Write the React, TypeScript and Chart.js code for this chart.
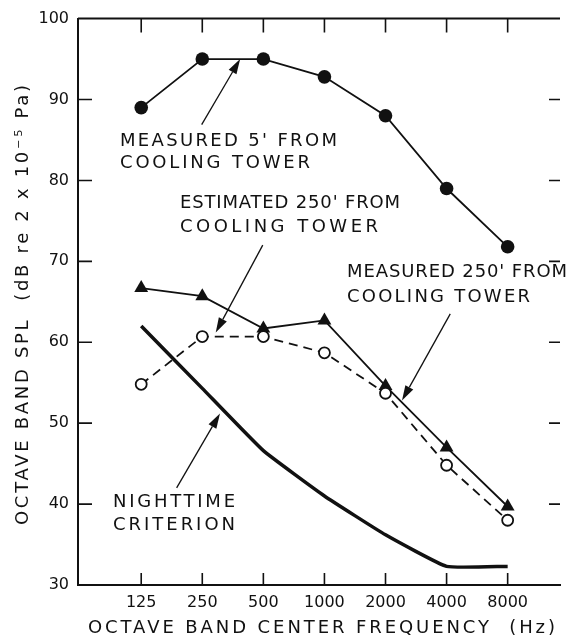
import React, { useEffect, useRef } from "react";
import { Chart, registerables } from "chart.js";

Chart.register(...registerables);

// ---------- data ----------
const freqLabels = ["125", "250", "500", "1000", "2000", "4000", "8000"];
const bandIndex = [0, 1, 2, 3, 4, 5, 6];
const measured5ft = [89, 95, 95, 92.8, 88, 79, 71.8];
const measured250ft = [66.7, 65.7, 61.7, 62.7, 54.6, 47, 39.7];
const estimated250ft = [54.8, 60.7, 60.7, 58.7, 53.7, 44.8, 38];
const nighttimeCriterion = [62, 54.3, 46.6, 41, 36.2, 32.3, 32.3];
const yTickValues = [30, 40, 50, 60, 70, 80, 90, 100];

const xTitle = "OCTAVE BAND CENTER FREQUENCY  (Hz)";
const yTitle = "OCTAVE BAND SPL  (dB re 2 x 10\u207B\u2075 Pa)";

// ---------- annotation layout (pixel text boxes, arrows in data units) ----------
const notes = [
  {
    lines: ["MEASURED 5' FROM", "COOLING TOWER"],
    x: 120, ys: [141, 163], widths: [217, 190],
    arrow: { from: [0.99, 86.9], to: [1.62, 95] },
  },
  {
    lines: ["ESTIMATED 250' FROM", "COOLING TOWER"],
    x: 180, ys: [203, 227], widths: [220, 198],
    arrow: { from: [1.99, 72.0], to: [1.22, 61.2] },
  },
  {
    lines: ["MEASURED 250' FROM", "COOLING TOWER"],
    x: 347, ys: [272, 297], widths: [220, 183],
    arrow: { from: [5.06, 63.5], to: [4.27, 52.8] },
  },
  {
    lines: ["NIGHTTIME", "CRITERION"],
    x: 113, ys: [502, 525], widths: [122, 122],
    arrow: { from: [0.58, 42.0], to: [1.29, 51.2] },
  },
];

const INK = "#111111";
const FONT = "DejaVu Sans";

function fillFitted(ctx: CanvasRenderingContext2D, text: string, x: number, y: number, width: number) {
  (ctx as any).letterSpacing = "0px";
  const w = ctx.measureText(text).width;
  const ls = text.length > 1 ? (width - w) / (text.length - 1) : 0;
  (ctx as any).letterSpacing = ls + "px";
  ctx.fillText(text, x, y);
  (ctx as any).letterSpacing = "0px";
}

function drawArrow(ctx: CanvasRenderingContext2D, x1: number, y1: number, x2: number, y2: number) {
  const ang = Math.atan2(y2 - y1, x2 - x1);
  const len = 15;
  const hw = 4.5;
  const bx = x2 - Math.cos(ang) * len;
  const by = y2 - Math.sin(ang) * len;
  ctx.beginPath();
  ctx.moveTo(x1, y1);
  ctx.lineTo(bx, by);
  ctx.lineWidth = 1.3;
  ctx.strokeStyle = INK;
  ctx.stroke();
  ctx.beginPath();
  ctx.moveTo(x2, y2);
  ctx.lineTo(bx + Math.sin(ang) * hw, by - Math.cos(ang) * hw);
  ctx.lineTo(bx - Math.sin(ang) * hw, by + Math.cos(ang) * hw);
  ctx.closePath();
  ctx.fillStyle = INK;
  ctx.fill();
}

const framePlugin = {
  id: "frameAndNotes",
  afterDraw(chart: any) {
    const ctx: CanvasRenderingContext2D = chart.ctx;
    const { left, right, top, bottom } = chart.chartArea;
    const xs = chart.scales.x;
    const ys = chart.scales.y;
    ctx.save();
    ctx.strokeStyle = INK;
    ctx.lineWidth = 2;
    // top frame line
    ctx.beginPath();
    ctx.moveTo(left, top);
    ctx.lineTo(right, top);
    ctx.stroke();
    // ticks (inward)
    ctx.lineWidth = 1.6;
    ctx.beginPath();
    for (const v of bandIndex) {
      const px = xs.getPixelForValue(v);
      ctx.moveTo(px, bottom);
      ctx.lineTo(px, bottom - 12);
      ctx.moveTo(px, top);
      ctx.lineTo(px, top + 14);
    }
    for (const v of yTickValues) {
      if (v === 30 || v === 100) continue;
      const py = ys.getPixelForValue(v);
      ctx.moveTo(left, py);
      ctx.lineTo(left + 14, py);
      ctx.moveTo(right, py);
      ctx.lineTo(right - 11, py);
    }
    ctx.stroke();

    // annotations
    ctx.fillStyle = INK;
    ctx.font = `18px "${FONT}"`;
    ctx.textAlign = "left";
    ctx.textBaseline = "middle";
    for (const n of notes) {
      n.lines.forEach((t, i) => fillFitted(ctx, t, n.x, n.ys[i], n.widths[i]));
      drawArrow(
        ctx,
        xs.getPixelForValue(n.arrow.from[0]), ys.getPixelForValue(n.arrow.from[1]),
        xs.getPixelForValue(n.arrow.to[0]), ys.getPixelForValue(n.arrow.to[1])
      );
    }

    // axis titles
    ctx.font = `18px "${FONT}"`;
    fillFitted(ctx, xTitle, 88, 628, 467);
    ctx.translate(23, 525);
    ctx.rotate(-Math.PI / 2);
    fillFitted(ctx, yTitle, 0, 0, 440);
    ctx.restore();
  },
};

export default function App() {
  const ref = useRef<HTMLCanvasElement | null>(null);

  useEffect(() => {
    if (!ref.current) return;
    const pts = (vals: number[]) => vals.map((v, i) => ({ x: bandIndex[i], y: v }));
    const chart = new Chart(ref.current, {
      type: "line",
      data: {
        datasets: [
          {
            label: "Nighttime criterion",
            data: pts(nighttimeCriterion),
            borderColor: INK,
            borderWidth: 3.5,
            pointRadius: 0,
            tension: 0.12,
            borderJoinStyle: "round",
          },
          {
            label: "Estimated 250' from cooling tower",
            data: pts(estimated250ft),
            borderColor: INK,
            borderWidth: 1.8,
            borderDash: [9, 6],
            pointStyle: "circle",
            pointRadius: 5.5,
            pointBorderWidth: 1.8,
            pointBackgroundColor: "#ffffff",
            pointBorderColor: INK,
          },
          {
            label: "Measured 250' from cooling tower",
            data: pts(measured250ft),
            borderColor: INK,
            borderWidth: 1.8,
            pointStyle: "triangle",
            pointRadius: 8,
            pointBorderWidth: 0,
            pointBackgroundColor: INK,
          },
          {
            label: "Measured 5' from cooling tower",
            data: pts(measured5ft),
            borderColor: INK,
            borderWidth: 1.8,
            pointStyle: "circle",
            pointRadius: 6.8,
            pointBorderWidth: 0,
            pointBackgroundColor: INK,
          },
        ],
      },
      options: {
        animation: false,
        responsive: false,
        devicePixelRatio: 1,
        layout: { padding: { top: 15, right: 2, left: 0, bottom: 0 } },
        plugins: { legend: { display: false }, title: { display: false }, tooltip: { enabled: false } },
        scales: {
          x: {
            type: "linear",
            min: -1.035,
            max: 6.857,
            grid: { display: false, drawTicks: false },
            border: { display: true, color: INK, width: 2 },
            afterBuildTicks: (s: any) => {
              s.ticks = bandIndex.map((v) => ({ value: v }));
            },
            afterFit: (s: any) => {
              s.height = 57;
            },
            ticks: {
              padding: 8,
              color: INK,
              font: { family: FONT, size: 16 },
              maxRotation: 0,
              autoSkip: false,
              callback: (v: any) => freqLabels[bandIndex.indexOf(Number(v))] ?? "",
            },
          },
          y: {
            type: "linear",
            min: 30,
            max: 100,
            grid: { display: false, drawTicks: false },
            border: { display: true, color: INK, width: 2 },
            afterBuildTicks: (s: any) => {
              s.ticks = yTickValues.map((v) => ({ value: v }));
            },
            afterFit: (s: any) => {
              s.width = 78;
            },
            ticks: {
              padding: 9,
              color: INK,
              font: { family: FONT, size: 16 },
              callback: (v: any) => String(v),
            },
          },
        },
      },
      plugins: [framePlugin],
    } as any);
    return () => chart.destroy();
  }, []);

  return (
    <div style={{ position: "fixed", left: 0, top: 0, width: 568, height: 642, background: "#ffffff" }}>
      <canvas ref={ref} width={568} height={642} style={{ width: 568, height: 642, display: "block" }} />
    </div>
  );
}
